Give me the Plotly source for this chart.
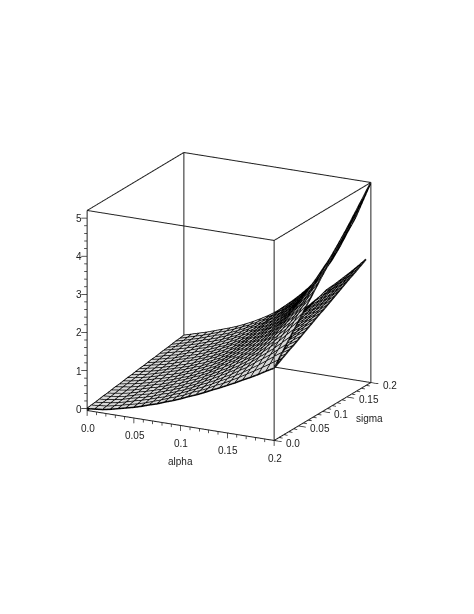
import numpy as np
import plotly.graph_objects as go

# ===== data =====
alpha = np.linspace(0, 0.2, 25)
sigma = np.linspace(0, 0.2, 25)
z_upper = [
    [0, .02, .04, .08, .13, .18, .23, .29, .36, .42, .50, .57, .65, .74, .82, .91, 1.01, 1.10, 1.20, 1.30, 1.41, 1.51, 1.62, 1.74, 1.85],
    [.02, .04, .06, .10, .15, .20, .25, .31, .38, .45, .53, .60, .68, .78, .86, .95, 1.06, 1.15, 1.26, 1.37, 1.49, 1.61, 1.73, 1.86, 1.99],
    [.03, .06, .08, .12, .17, .23, .28, .34, .41, .47, .56, .63, .72, .81, .90, 1.00, 1.11, 1.21, 1.32, 1.44, 1.57, 1.70, 1.84, 1.99, 2.13],
    [.05, .07, .10, .14, .20, .25, .30, .36, .44, .50, .58, .66, .75, .85, .94, 1.04, 1.15, 1.26, 1.39, 1.51, 1.66, 1.80, 1.94, 2.11, 2.27],
    [.07, .09, .12, .16, .22, .27, .32, .39, .46, .53, .61, .69, .78, .88, .98, 1.09, 1.20, 1.32, 1.45, 1.58, 1.74, 1.89, 2.05, 2.23, 2.41],
    [.08, .11, .14, .18, .24, .29, .35, .41, .49, .55, .64, .72, .81, .92, 1.02, 1.13, 1.25, 1.37, 1.51, 1.65, 1.82, 1.99, 2.16, 2.36, 2.55],
    [.10, .13, .16, .20, .26, .32, .37, .44, .51, .58, .67, .75, .85, .95, 1.06, 1.17, 1.30, 1.43, 1.57, 1.72, 1.90, 2.08, 2.27, 2.48, 2.69],
    [.12, .15, .18, .23, .28, .34, .39, .46, .54, .61, .70, .78, .88, .99, 1.10, 1.22, 1.35, 1.48, 1.63, 1.80, 1.98, 2.18, 2.37, 2.60, 2.83],
    [.13, .17, .20, .25, .30, .36, .42, .48, .56, .63, .72, .81, .91, 1.03, 1.14, 1.26, 1.40, 1.53, 1.69, 1.87, 2.07, 2.27, 2.48, 2.73, 2.97],
    [.15, .18, .22, .27, .33, .38, .44, .51, .59, .66, .75, .84, .94, 1.06, 1.18, 1.30, 1.44, 1.59, 1.76, 1.94, 2.15, 2.37, 2.59, 2.85, 3.11],
    [.17, .20, .24, .29, .35, .41, .46, .53, .61, .69, .78, .87, .98, 1.10, 1.22, 1.35, 1.49, 1.64, 1.82, 2.01, 2.23, 2.46, 2.70, 2.97, 3.25],
    [.18, .22, .26, .31, .37, .43, .49, .56, .64, .71, .81, .90, 1.01, 1.13, 1.26, 1.39, 1.54, 1.70, 1.88, 2.08, 2.31, 2.56, 2.80, 3.10, 3.39],
    [.20, .24, .28, .33, .39, .45, .51, .58, .66, .74, .83, .93, 1.04, 1.17, 1.30, 1.44, 1.59, 1.75, 1.94, 2.15, 2.40, 2.65, 2.91, 3.22, 3.53],
    [.22, .26, .30, .35, .41, .47, .53, .60, .69, .77, .86, .96, 1.07, 1.21, 1.33, 1.48, 1.64, 1.80, 2.00, 2.22, 2.48, 2.75, 3.02, 3.34, 3.66],
    [.23, .28, .32, .37, .43, .50, .56, .63, .71, .79, .89, .99, 1.11, 1.24, 1.37, 1.52, 1.69, 1.86, 2.06, 2.29, 2.56, 2.85, 3.13, 3.47, 3.80],
    [.25, .29, .34, .39, .46, .52, .58, .65, .74, .82, .92, 1.02, 1.14, 1.28, 1.41, 1.57, 1.73, 1.91, 2.13, 2.36, 2.64, 2.94, 3.23, 3.59, 3.94],
    [.27, .31, .36, .41, .48, .54, .60, .68, .76, .85, .95, 1.05, 1.17, 1.31, 1.45, 1.61, 1.78, 1.97, 2.19, 2.43, 2.72, 3.04, 3.34, 3.71, 4.08],
    [.28, .33, .38, .43, .50, .56, .63, .70, .79, .87, .97, 1.08, 1.20, 1.35, 1.49, 1.65, 1.83, 2.02, 2.25, 2.50, 2.81, 3.13, 3.45, 3.84, 4.22],
    [.30, .35, .40, .45, .52, .59, .65, .73, .81, .90, 1.00, 1.11, 1.24, 1.38, 1.53, 1.70, 1.88, 2.08, 2.31, 2.57, 2.89, 3.23, 3.56, 3.96, 4.36],
    [.32, .37, .42, .48, .54, .61, .67, .75, .84, .93, 1.03, 1.14, 1.27, 1.42, 1.57, 1.74, 1.93, 2.13, 2.37, 2.65, 2.97, 3.32, 3.66, 4.08, 4.50],
    [.33, .39, .44, .50, .56, .63, .70, .77, .86, .95, 1.06, 1.17, 1.30, 1.46, 1.61, 1.79, 1.98, 2.18, 2.43, 2.72, 3.05, 3.42, 3.77, 4.21, 4.64],
    [.35, .40, .46, .52, .59, .65, .72, .80, .89, .98, 1.09, 1.20, 1.33, 1.49, 1.65, 1.83, 2.02, 2.24, 2.50, 2.79, 3.13, 3.51, 3.88, 4.33, 4.78],
    [.37, .42, .48, .54, .61, .68, .74, .82, .91, 1.01, 1.11, 1.23, 1.37, 1.53, 1.69, 1.87, 2.07, 2.29, 2.56, 2.86, 3.22, 3.61, 3.99, 4.45, 4.92],
    [.38, .44, .50, .56, .63, .70, .77, .85, .94, 1.03, 1.14, 1.26, 1.40, 1.56, 1.73, 1.92, 2.12, 2.35, 2.62, 2.93, 3.30, 3.70, 4.09, 4.58, 5.06],
    [.40, .46, .52, .58, .65, .72, .79, .87, .96, 1.06, 1.17, 1.29, 1.43, 1.60, 1.77, 1.96, 2.17, 2.40, 2.68, 3.00, 3.38, 3.80, 4.20, 4.70, 5.20],
]
# the lower sheet only shows near the right side, so only that part is kept
alpha_low = alpha[17:]
sigma_low = np.linspace(0, 0.19, 25)
z_lower = [
    [1.10, 1.20, 1.30, 1.41, 1.51, 1.62, 1.74, 1.85],
    [1.13, 1.24, 1.34, 1.45, 1.56, 1.67, 1.79, 1.91],
    [1.16, 1.27, 1.38, 1.50, 1.61, 1.72, 1.85, 1.97],
    [1.20, 1.31, 1.43, 1.54, 1.65, 1.77, 1.90, 2.03],
    [1.23, 1.35, 1.47, 1.59, 1.70, 1.83, 1.96, 2.09],
    [1.26, 1.38, 1.51, 1.63, 1.75, 1.88, 2.01, 2.14],
    [1.29, 1.42, 1.55, 1.68, 1.80, 1.93, 2.07, 2.20],
    [1.32, 1.45, 1.59, 1.72, 1.85, 1.98, 2.12, 2.26],
    [1.36, 1.49, 1.63, 1.76, 1.89, 2.03, 2.18, 2.32],
    [1.39, 1.53, 1.68, 1.81, 1.94, 2.08, 2.23, 2.38],
    [1.42, 1.56, 1.72, 1.85, 1.99, 2.13, 2.29, 2.44],
    [1.45, 1.60, 1.76, 1.90, 2.04, 2.18, 2.34, 2.50],
    [1.49, 1.64, 1.80, 1.94, 2.08, 2.24, 2.40, 2.56],
    [1.52, 1.67, 1.84, 1.98, 2.13, 2.29, 2.45, 2.61],
    [1.55, 1.71, 1.88, 2.03, 2.18, 2.34, 2.50, 2.67],
    [1.58, 1.74, 1.93, 2.07, 2.23, 2.39, 2.56, 2.73],
    [1.61, 1.78, 1.97, 2.12, 2.28, 2.44, 2.61, 2.79],
    [1.65, 1.82, 2.01, 2.16, 2.32, 2.49, 2.67, 2.85],
    [1.68, 1.85, 2.05, 2.21, 2.37, 2.54, 2.72, 2.91],
    [1.71, 1.89, 2.09, 2.25, 2.42, 2.59, 2.78, 2.97],
    [1.74, 1.93, 2.13, 2.29, 2.47, 2.65, 2.83, 3.03],
    [1.77, 1.96, 2.18, 2.34, 2.52, 2.70, 2.89, 3.08],
    [1.81, 2.00, 2.22, 2.38, 2.56, 2.75, 2.94, 3.14],
    [1.84, 2.03, 2.26, 2.43, 2.61, 2.80, 3.00, 3.20],
    [1.87, 2.07, 2.30, 2.47, 2.66, 2.85, 3.05, 3.26],
]

xy_major = [0.0, 0.05, 0.1, 0.15, 0.2]
xy_labels = ["0.0", "0.05", "0.1", "0.15", "0.2"]
xy_minor = [round(i * 0.01, 2) for i in range(21) if i % 5]
z_major = [0, 1, 2, 3, 4, 5]
z_minor = [round(i * 0.2, 1) for i in range(26) if i % 5]

x0, x1 = 0, 0.2
y0, y1 = 0, 0.2
z0, z1 = -0.05, 5.2

INK = "#222222"


def sheet(x, y, z):
    return go.Surface(
        x=x, y=y, z=z,
        colorscale=[[0, "#d8d8d8"], [1, "#d8d8d8"]],
        showscale=False,
        hoverinfo="skip",
        lighting=dict(ambient=1, diffuse=0, specular=0, roughness=1, fresnel=0),
    )


def wire(x, y, z):
    # grid lines of a sheet, both ways
    z = np.array(z)
    wx, wy, wz = [], [], []
    for j, yv in enumerate(y):
        wx += list(x) + [None]
        wy += [yv] * len(x) + [None]
        wz += list(z[j]) + [None]
    for i, xv in enumerate(x):
        wx += [xv] * len(y) + [None]
        wy += list(y) + [None]
        wz += list(z[:, i]) + [None]
    return go.Scatter3d(x=wx, y=wy, z=wz, mode="lines", line=dict(color="black", width=3), hoverinfo="skip", showlegend=False)


def segments(pairs, width):
    sx, sy, sz = [], [], []
    for a, b in pairs:
        sx += [a[0], b[0], None]
        sy += [a[1], b[1], None]
        sz += [a[2], b[2], None]
    return go.Scatter3d(x=sx, y=sy, z=sz, mode="lines", line=dict(color=INK, width=width), hoverinfo="skip", showlegend=False)


# ===== box edges =====
box = segments([
    ((x0, y0, z0), (x1, y0, z0)), ((x1, y0, z0), (x1, y1, z0)), ((x1, y1, z0), (x0, y1, z0)), ((x0, y1, z0), (x0, y0, z0)),
    ((x0, y0, z1), (x1, y0, z1)), ((x1, y0, z1), (x1, y1, z1)), ((x1, y1, z1), (x0, y1, z1)), ((x0, y1, z1), (x0, y0, z1)),
    ((x0, y0, z0), (x0, y0, z1)), ((x1, y0, z0), (x1, y0, z1)), ((x1, y1, z0), (x1, y1, z1)), ((x0, y1, z0), (x0, y1, z1)),
], 2)

# ===== tick marks: alpha ticks hang down, sigma ticks point right, z ticks point left =====
ticks = []
for v in xy_major:
    ticks.append(((v, y0, z0), (v, y0, z0 - 0.14)))
    ticks.append(((x1, v, z0), (x1 + 0.008, v, z0)))
for v in xy_minor:
    ticks.append(((v, y0, z0), (v, y0, z0 - 0.08)))
    ticks.append(((x1, v, z0), (x1 + 0.004, v, z0)))
for v in z_major:
    ticks.append(((x0, y0, v), (x0 - 0.005, y0 - 0.0026, v)))
for v in z_minor:
    ticks.append(((x0, y0, v), (x0 - 0.0025, y0 - 0.0013, v)))
tick_marks = segments(ticks, 1.5)

# ===== labels =====
font = dict(family="Liberation Sans", size=10, color=INK)
labels = []
for v, t in zip(xy_major, xy_labels):
    labels.append(dict(x=v, y=y0, z=z0, text=t, showarrow=False, font=font, xshift=1, yshift=-17))
    labels.append(dict(x=x1, y=v, z=z0, text=t, showarrow=False, font=font, xanchor="left", xshift=10, yshift=-2))
for v in z_major:
    labels.append(dict(x=x0, y=y0, z=v, text=str(v), showarrow=False, font=font, xanchor="right", xshift=-3))
labels.append(dict(x=0.1, y=y0, z=z0, text="alpha", showarrow=False, font=font, yshift=-35))
labels.append(dict(x=x1, y=0.1, z=z0, text="sigma", showarrow=False, font=font, xshift=47, yshift=-6))

hidden = dict(visible=False, showspikes=False)

fig = go.Figure(data=[
    sheet(alpha_low, sigma_low, z_lower), sheet(alpha, sigma, z_upper),
    wire(alpha_low, sigma_low, z_lower), wire(alpha, sigma, z_upper),
    box, tick_marks,
])
fig.update_layout(
    width=474,
    height=614,
    margin=dict(l=0, r=0, t=0, b=0),
    paper_bgcolor="white",
    showlegend=False,
    scene=dict(
        domain=dict(x=[0.126, 0.806], y=[0.1862, 0.8722]),
        aspectmode="manual",
        aspectratio=dict(x=1.25, y=1.25, z=1.114),
        xaxis=dict(range=[-0.025, 0.225], **hidden),
        yaxis=dict(range=[-0.025, 0.225], **hidden),
        zaxis=dict(range=[-0.35, 5.5], **hidden),
        annotations=labels,
        camera=dict(
            projection=dict(type="orthographic"),
            eye=dict(x=0.4367 * 3.92, y=-0.8445 * 3.92, z=0.31 * 3.92),
            center=dict(x=0, y=0, z=0),
            up=dict(x=0, y=0, z=1),
        ),
    ),
)

fig.write_html("out.html")
